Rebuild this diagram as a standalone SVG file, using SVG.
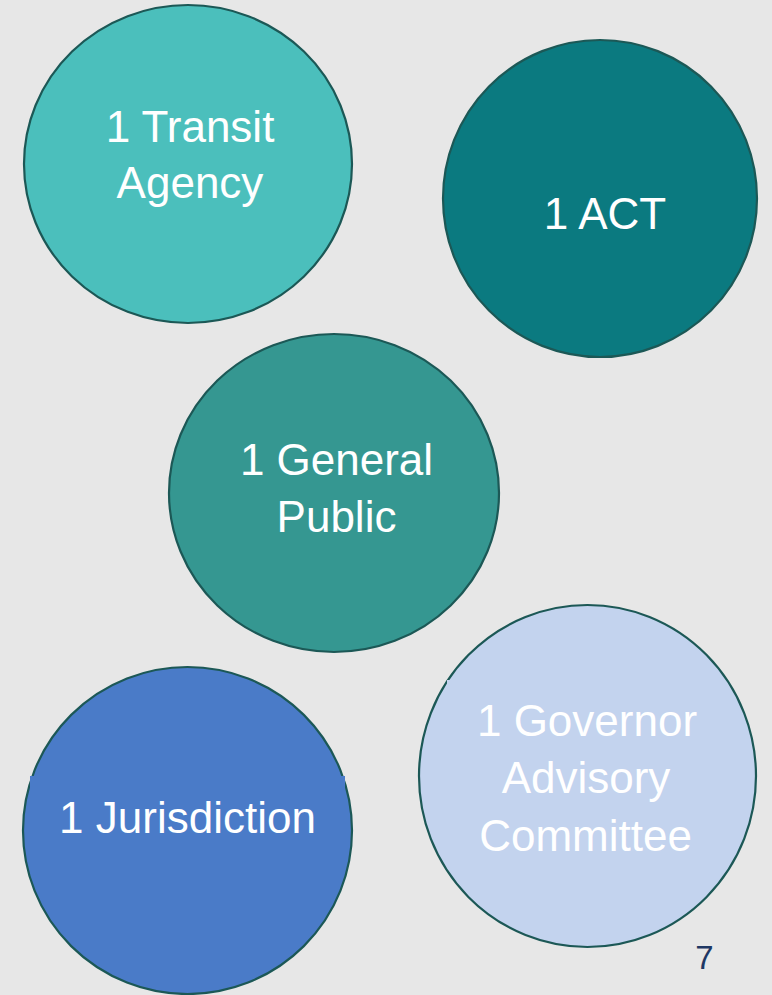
<svg xmlns="http://www.w3.org/2000/svg" width="772" height="995" viewBox="0 0 772 995">
<style>
.c{stroke:#1C5856;stroke-width:2.2}
.t{font-family:"Liberation Sans",Arial,sans-serif;font-size:44px;fill:#FFFFFF;text-anchor:middle}
</style>
<rect x="0" y="0" width="772" height="995" fill="#E7E7E7"/>
<g id="transit-agency">
<ellipse class="c" cx="188" cy="164" rx="164" ry="159" fill="#4BBFBC"/>
<text class="t" x="190" y="142">1 Transit</text>
<text class="t" x="190" y="198">Agency</text>
</g>
<g id="act">
<ellipse class="c" cx="600" cy="198.5" rx="157" ry="158.5" fill="#0B7A80"/>
<text class="t" x="605" y="229">1 ACT</text>
</g>
<g id="general-public">
<ellipse class="c" cx="334" cy="493" rx="165" ry="159" fill="#359791"/>
<text class="t" x="336.5" y="475">1 General</text>
<text class="t" x="336.5" y="532">Public</text>
</g>
<g id="jurisdiction">
<ellipse class="c" cx="187.5" cy="830.5" rx="164.5" ry="163.5" fill="#4A7BC8"/>
<rect x="30" y="776" width="315" height="94" fill="#4A7BC8"/>
<text class="t" x="187.5" y="833">1 Jurisdiction</text>
</g>
<g id="governor-advisory-committee">
<ellipse class="c" cx="587.5" cy="776" rx="168.5" ry="171" fill="#C3D3EE"/>
<rect x="447" y="680" width="277" height="188" fill="#C3D3EE"/>
<text class="t" x="587" y="736">1 Governor</text>
<text class="t" x="586" y="793">Advisory</text>
<text class="t" x="585.5" y="851">Committee</text>
</g>
<g id="connectors"></g>
<text x="704.5" y="969" font-family="'Liberation Sans',Arial,sans-serif" font-size="33" fill="#1F3864" text-anchor="middle">7</text>
</svg>
